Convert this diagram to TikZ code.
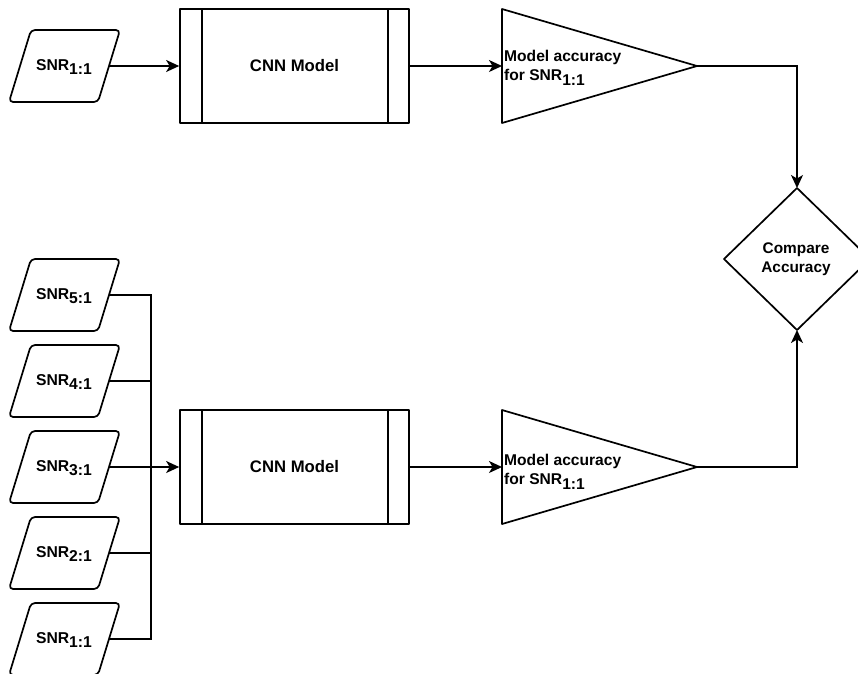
\documentclass[tikz,border=0pt]{standalone}
\usepackage{fontspec}
\setmainfont{Liberation Sans}
\usetikzlibrary{arrows.meta}

% input block: rounded parallelogram with SNR label, right-middle coordinate #1-r
\newcommand\snrbox[3]{%
  \draw[shapeline, rounded corners=4pt] (31,#2-36) -- (120,#2-36) -- (98,#2+36) -- (9,#2+36) -- cycle;
  \node[snrtext] (#1) at (64,#2+1) {SNR\raisebox{-4.5pt}{#3}};
  \coordinate (#1-r) at (109,#2);
}
% accuracy block: right-pointing triangle, left-middle #1-in and apex #1-out
\newcommand\accbox[3]{%
  \draw[shapeline] (502,#2-57) -- (697,#2) -- (502,#2+57) -- cycle;
  \coordinate (#1-in) at (502,#2);
  \coordinate (#1-out) at (697,#2);
  \node[acctext, anchor=west] (#1) at (504,#2+#3) {Model accuracy\\for SNR\raisebox{-4.5pt}{1:1}};
}

\begin{document}
\begin{tikzpicture}[x=1pt, y=-1pt,
  shapeline/.style={line width=1.7pt, line join=round},
  conn/.style={line width=1.5pt},
  arr/.style={conn, -{Stealth[length=13pt, width=12pt, inset=3.5pt]}},
  snrtext/.style={font=\fontsize{15.7}{18}\selectfont\bfseries, inner sep=0pt},
  acctext/.style={font=\fontsize{15.6}{19}\selectfont\bfseries, align=left, inner sep=0pt},
  cnn/.style={shapeline, draw, minimum width=229pt, minimum height=114pt, inner sep=0pt,
    font=\fontsize{16.7}{19}\selectfont\bfseries},
  cmptext/.style={font=\fontsize{15.4}{18.5}\selectfont\bfseries, align=center, inner sep=0pt}]

\clip (0,0) rectangle (858,673);
\useasboundingbox (0,0) rectangle (858,673);

% ---------- upper branch ----------
\snrbox{top}{66}{1:1}
\node[cnn] (cnn1) at (294.5,66) {CNN Model};
\draw[shapeline] ([xshift=23pt]cnn1.north west) -- ([xshift=23pt]cnn1.south west);
\draw[shapeline] ([xshift=-22pt]cnn1.north east) -- ([xshift=-22pt]cnn1.south east);
\accbox{acc1}{66}{2}

% ---------- lower branch ----------
\snrbox{s5}{295}{5:1}
\snrbox{s4}{381}{4:1}
\snrbox{s3}{467}{3:1}
\snrbox{s2}{553}{2:1}
\snrbox{s1}{639}{1:1}
\node[cnn] (cnn2) at (294.5,467) {CNN Model};
\draw[shapeline] ([xshift=23pt]cnn2.north west) -- ([xshift=23pt]cnn2.south west);
\draw[shapeline] ([xshift=-22pt]cnn2.north east) -- ([xshift=-22pt]cnn2.south east);
\accbox{acc2}{467}{5}

% ---------- decision ----------
\draw[shapeline] (797,188) -- (870,259) -- (797,330) -- (724,259) -- cycle;
\node[cmptext] (cmp) at (796,259) {Compare\\Accuracy};
\coordinate (cmp-top) at (797,188);
\coordinate (cmp-bot) at (797,330);

% ---------- connectors ----------
\draw[arr] (top-r) -- (cnn1.west);
\draw[arr] (cnn1.east) -- (acc1-in);
\draw[arr] (acc1-out) -| (cmp-top);

\coordinate (busTop) at (151,295);
\coordinate (busBot) at (151,639);
\draw[conn, line join=miter] (s5-r) -- (busTop) -- (busBot) -- (s1-r);
\draw[conn] (s4-r) -- (s4-r -| busTop);
\draw[conn] (s2-r) -- (s2-r -| busTop);
\draw[arr] (s3-r) -- (cnn2.west);
\draw[arr] (cnn2.east) -- (acc2-in);
\draw[arr] (acc2-out) -| (cmp-bot);
\end{tikzpicture}
\end{document}
